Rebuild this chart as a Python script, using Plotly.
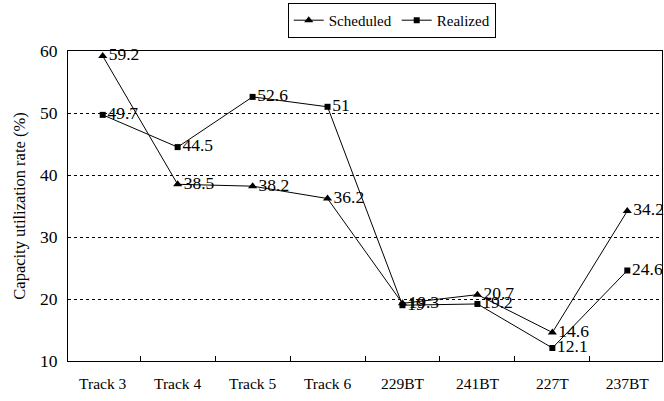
import plotly.graph_objects as go

categories = ["Track 3", "Track 4", "Track 5", "Track 6", "229BT", "241BT", "227T", "237BT"]
scheduled = [59.2, 38.5, 38.2, 36.2, 19.3, 20.7, 14.6, 34.2]
realized = [49.7, 44.5, 52.6, 51, 19, 19.2, 12.1, 24.6]
y_ticks = [10, 20, 30, 40, 50, 60]

FAM = "Liberation Serif"
def f(size):
    return dict(family=FAM, size=size, color="black")

fig = go.Figure()
fig.add_trace(go.Scatter(
    x=categories, y=scheduled, name="Scheduled", mode="lines+markers+text",
    text=[f"{v:g}" for v in scheduled], textposition="middle right",
    line=dict(color="black", width=1),
    marker=dict(symbol="triangle-up", size=8, color="black"),
    textfont=f(17.5), cliponaxis=False,
))
fig.add_trace(go.Scatter(
    x=categories, y=realized, name="Realized", mode="lines+markers+text",
    text=[f"{v:g}" for v in realized], textposition="middle right",
    line=dict(color="black", width=1),
    marker=dict(symbol="square", size=6, color="black"),
    textfont=f(17.5), cliponaxis=False,
))

fig.update_layout(
    width=664, height=401,
    margin=dict(l=68, r=2, t=51, b=40, autoexpand=False),
    paper_bgcolor="white", plot_bgcolor="white",
    font=f(15),
    showlegend=True,
    legend=dict(orientation="h", x=0.545, xanchor="center", y=1.155, yanchor="top",
                bordercolor="black", borderwidth=1, font=f(15),
                itemwidth=30, tracegroupgap=0),
    xaxis=dict(type="category", showline=True, linecolor="black", linewidth=1, mirror=True,
               ticks="inside", tickson="boundaries", ticklen=5, tickcolor="black",
               showgrid=False, tickfont=f(15.5), ticklabelstandoff=8),
    yaxis=dict(range=[10, 60], tickvals=y_ticks, showline=True, linecolor="black", linewidth=1,
               mirror=True, showgrid=True, gridcolor="black", griddash="dot", gridwidth=1,
               zeroline=False, ticks="", tickfont=f(17.5), ticklabelstandoff=6,
               title=dict(text="Capacity utilization rate (%)", font=f(16.5), standoff=10)),
)

fig.write_html("out.html", config={"displayModeBar": False},
               post_script="document.body.style.margin='0';document.body.style.overflow='hidden';")
